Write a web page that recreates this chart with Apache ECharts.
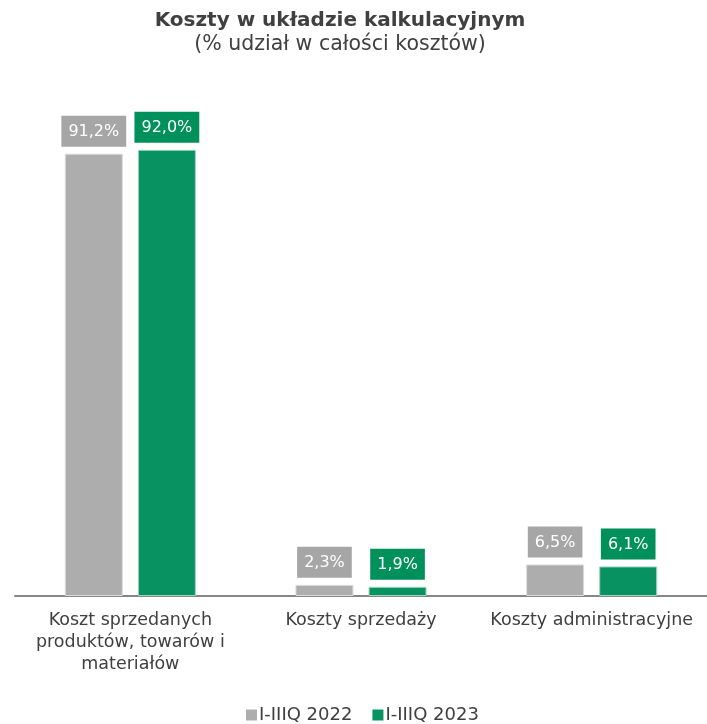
<!DOCTYPE html>
<html>
<head>
<meta charset="utf-8">
<script src="https://cdn.jsdelivr.net/npm/echarts@6/dist/echarts.min.js"></script>
<style>
html,body{margin:0;padding:0;background:#fff;}
#chart{width:707px;height:724px;}
</style>
</head>
<body>
<div id="chart"></div>
<script>
const categories = ['Koszt sprzedanych\nproduktów, towarów i\nmateriałów', 'Koszty sprzedaży', 'Koszty administracyjne'];
const seriesNames = ['I-IIIQ 2022', 'I-IIIQ 2023'];
const values2022 = [91.2, 2.3, 6.5];
const values2023 = [92.0, 1.9, 6.1];

const FONT = 'DejaVu Sans';
const chart = echarts.init(document.getElementById('chart'));

function labelCfg(bg) {
  return {
    show: true,
    position: 'top',
    distance: 7,
    backgroundColor: bg,
    color: '#ffffff',
    fontFamily: FONT,
    fontSize: 16,
    padding: [8, 7, 7, 7],
    formatter: p => p.value.toFixed(1).replace('.', ',') + '%'
  };
}

chart.setOption({
  animation: false,
  textStyle: { fontFamily: FONT },
  title: {
    text: 'Koszty w układzie kalkulacyjnym',
    subtext: '(% udział w całości kosztów)',
    left: 335,
    textAlign: 'center',
    top: 6,
    itemGap: 3,
    textStyle: { fontFamily: FONT, fontSize: 20, fontWeight: 'bold', color: '#404040' },
    subtextStyle: { fontFamily: FONT, fontSize: 20.5, color: '#404040' }
  },
  legend: {
    top: 701,
    left: 241,
    itemWidth: 11,
    itemHeight: 11,
    itemGap: 20,
    icon: 'rect',
    itemStyle: { borderWidth: 0 },
    textStyle: { fontFamily: FONT, fontSize: 18, color: '#404040', padding: [0, 0, 0, -3] },
    data: seriesNames
  },
  grid: { left: 15, right: 0, top: 111, bottom: 128, containLabel: false },
  xAxis: {
    type: 'category',
    data: categories,
    axisLine: { show: true, lineStyle: { color: '#868686', width: 2 } },
    axisTick: { show: false },
    axisLabel: {
      fontFamily: FONT, fontSize: 17.5, color: '#404040', margin: 13, lineHeight: 22, interval: 0
    }
  },
  yAxis: {
    type: 'value', min: 0, max: 100, show: false,
    splitLine: { show: false }
  },
  series: [
    {
      name: seriesNames[0], type: 'bar', data: values2022,
      barWidth: 58, barGap: '26%',
      itemStyle: { color: '#adadad', borderColor: '#dcdcdc', borderWidth: 1 },
      label: labelCfg('#a6a6a6')
    },
    {
      name: seriesNames[1], type: 'bar', data: values2023,
      barWidth: 58,
      itemStyle: { color: '#089262', borderColor: '#9fd6bf', borderWidth: 1 },
      label: labelCfg('#00905b')
    }
  ]
});
</script>
</body>
</html>
